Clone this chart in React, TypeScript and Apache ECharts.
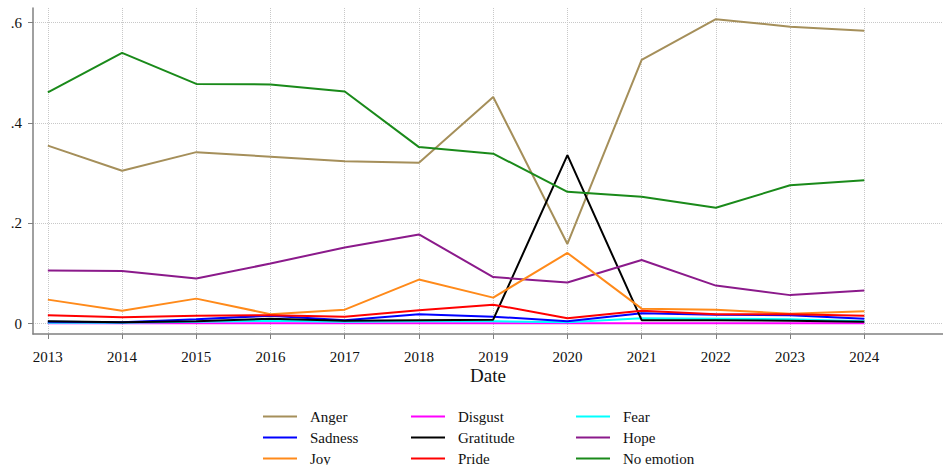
import React, { useEffect, useRef } from "react";
import * as echarts from "echarts";

const years = [2013, 2014, 2015, 2016, 2017, 2018, 2019, 2020, 2021, 2022, 2023, 2024];
const yTicks = [0, 0.2, 0.4, 0.6];

const anger = [0.355, 0.305, 0.342, 0.333, 0.324, 0.321, 0.452, 0.159, 0.526, 0.607, 0.592, 0.584];
const disgust = [0.001, 0.001, 0.001, 0.001, 0.001, 0.001, 0.001, 0.001, 0.001, 0.001, 0.001, 0.001];
const fear = [0.002, 0.002, 0.004, 0.006, 0.004, 0.005, 0.005, 0.003, 0.011, 0.010, 0.009, 0.005];
const sadness = [0.004, 0.003, 0.009, 0.016, 0.007, 0.019, 0.014, 0.005, 0.021, 0.018, 0.017, 0.010];
const gratitude = [0.005, 0.003, 0.005, 0.010, 0.006, 0.007, 0.008, 0.336, 0.007, 0.007, 0.006, 0.004];
const hope = [0.106, 0.105, 0.090, 0.120, 0.152, 0.178, 0.093, 0.082, 0.127, 0.076, 0.057, 0.066];
const joy = [0.048, 0.026, 0.050, 0.019, 0.028, 0.088, 0.052, 0.141, 0.030, 0.028, 0.020, 0.025];
const pride = [0.017, 0.013, 0.016, 0.017, 0.014, 0.027, 0.038, 0.011, 0.026, 0.019, 0.019, 0.016];
const noEmotion = [0.461, 0.540, 0.478, 0.477, 0.463, 0.352, 0.339, 0.263, 0.253, 0.231, 0.276, 0.286];

const seriesDefs = [
  { name: "Anger", data: anger, color: "#a58f5a" },
  { name: "Disgust", data: disgust, color: "#ff00ff" },
  { name: "Fear", data: fear, color: "#00ffff" },
  { name: "Sadness", data: sadness, color: "#0000ff" },
  { name: "Gratitude", data: gratitude, color: "#000000" },
  { name: "Hope", data: hope, color: "#8b1a8b" },
  { name: "Joy", data: joy, color: "#ff8a1a" },
  { name: "Pride", data: pride, color: "#ff0000" },
  { name: "No emotion", data: noEmotion, color: "#1a8a1a" },
];

const legendCols = [
  ["Anger", "Sadness", "Joy"],
  ["Disgust", "Gratitude", "Pride"],
  ["Fear", "Hope", "No emotion"],
];
const legendLefts = [263, 411, 576];

const FONT = "Liberation Serif";

export default function App() {
  const ref = useRef<HTMLDivElement>(null);
  useEffect(() => {
    const chart = echarts.init(ref.current!, null, { renderer: "svg" });
    const grid = { color: "#c8c8c8", type: "dotted", width: 1 };
    chart.setOption({
      animation: false,
      backgroundColor: "#ffffff",
      grid: { left: 33, right: 0, top: 8, bottom: 131 },
      xAxis: {
        type: "value",
        min: 2012.8,
        max: 2025.06,
        name: "Date",
        nameLocation: "middle",
        nameGap: 32,
        nameMoveOverlap: false,
        nameTextStyle: { fontFamily: FONT, fontSize: 19, color: "#111" },
        axisLine: { show: true, onZero: false, lineStyle: { color: "#808080", width: 1.5 } },
        axisTick: { show: true, length: 5, customValues: years, lineStyle: { color: "#808080", width: 1 } },
        axisLabel: {
          customValues: years,
          margin: 15,
          fontFamily: FONT,
          fontSize: 15,
          color: "#111",
          formatter: (v: number) => String(Math.round(v)),
        },
        splitLine: { show: true, lineStyle: grid },
      },
      yAxis: {
        type: "value",
        min: -0.0205,
        max: 0.6293,
        axisLine: { show: true, onZero: false, lineStyle: { color: "#808080", width: 1.5 } },
        axisTick: { show: true, length: 5, customValues: yTicks, lineStyle: { color: "#808080", width: 1 } },
        axisLabel: {
          customValues: yTicks,
          margin: 11,
          fontFamily: FONT,
          fontSize: 15,
          color: "#111",
          formatter: (v: number) => (Math.abs(v) < 1e-9 ? "0" : "." + String(Math.round(v * 10))),
        },
        splitLine: { show: true, lineStyle: grid },
      },
      legend: legendCols.map((names, i) => ({
        orient: "vertical",
        left: legendLefts[i],
        top: 409,
        height: 80,
        padding: 0,
        data: names,
        icon: "rect",
        itemWidth: 34,
        itemHeight: 2,
        itemGap: 6,
        selectedMode: false,
        textStyle: { fontFamily: FONT, fontSize: 15, lineHeight: 15, color: "#111", padding: [0, 0, 0, 8] },
      })),
      series: seriesDefs.map((s) => ({
        name: s.name,
        type: "line",
        data: years.map((y, i) => [y, s.data[i]]),
        symbol: "none",
        color: s.color,
        lineStyle: { color: s.color, width: 2 },
      })),
    });
    return () => chart.dispose();
  }, []);
  return <div ref={ref} style={{ position: "fixed", left: 0, top: 0, width: 943, height: 465 }} />;
}
